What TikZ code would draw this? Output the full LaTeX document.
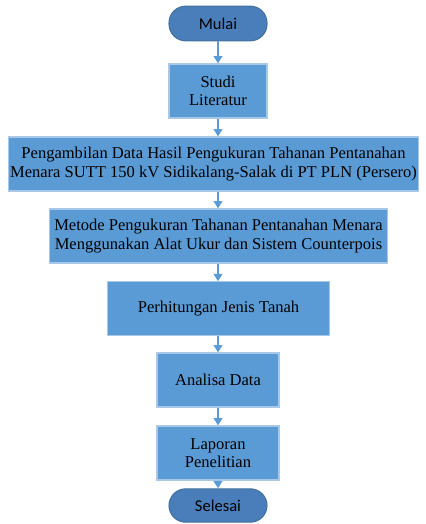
\documentclass[tikz,border=0pt]{standalone}
\usepackage{fontspec}
\setmainfont{Liberation Serif}
\newfontfamily\termfont{Carlito}
\usetikzlibrary{arrows.meta}
\definecolor{boxfill}{HTML}{5B9BD5}
\definecolor{boxline}{HTML}{A9C8E8}
\definecolor{termfill}{HTML}{4A7EBB}
\definecolor{termline}{HTML}{41719C}
\definecolor{arrowc}{HTML}{5B9BD5}
\begin{document}
\begin{tikzpicture}[x=0.75pt,y=-0.75pt,
  procbox/.style={rectangle,fill=boxfill,draw=boxline,line width=0.9pt,align=center,
    font=\fontsize{12.4}{13.8}\selectfont,inner sep=0pt},
  termbox/.style={rectangle,rounded corners=12.5pt,fill=termfill,draw=termline,line width=0.8pt,
    font=\termfont\fontsize{12.4}{14}\selectfont,inner sep=0pt},
  arr/.style={draw=arrowc,line width=1.2pt,-{Triangle[width=6.5pt,length=5.5pt]}}]
\useasboundingbox (0,0) rectangle (425,524);
\node[termbox,minimum width=73.5pt,minimum height=26pt] (mulai) at (218,23.5) {Mulai};
\node[procbox,minimum width=73.5pt,minimum height=40.5pt] (studi) at (218,91) {Studi\\Literatur};
\node[procbox,minimum width=308pt,minimum height=40.5pt] (ambil) at (213.5,164) {Pengambilan Data Hasil Pengukuran Tahanan Pentanahan\\Menara SUTT 150 kV Sidikalang-Salak di PT PLN (Persero)};
\node[procbox,minimum width=254pt,minimum height=40.5pt] (metode) at (218.5,236) {Metode Pengukuran Tahanan Pentanahan Menara\\Menggunakan Alat Ukur dan Sistem Counterpois};
\node[procbox,minimum width=166pt,minimum height=40pt] (hitung) at (218.5,308.5) {Perhitungan Jenis Tanah};
\node[procbox,minimum width=91.5pt,minimum height=40.5pt] (analisa) at (218,380) {Analisa Data};
\node[procbox,minimum width=91.5pt,minimum height=40.5pt] (lapor) at (218,453) {Laporan\\Penelitian};
\node[termbox,minimum width=73.5pt,minimum height=25pt] (selesai) at (218,505.5) {Selesai};
\draw[arr] (mulai.south) -- (studi.north);
\draw[arr] (studi.south) -- (studi.south |- ambil.north);
\draw[arr] (studi.south |- ambil.south) -- (studi.south |- metode.north);
\draw[arr] (studi.south |- metode.south) -- (studi.south |- hitung.north);
\draw[arr] (studi.south |- hitung.south) -- (studi.south |- analisa.north);
\draw[arr] (analisa.south) -- (lapor.north);
\draw[arr] (lapor.south) -- (selesai.north);
\end{tikzpicture}
\end{document}
